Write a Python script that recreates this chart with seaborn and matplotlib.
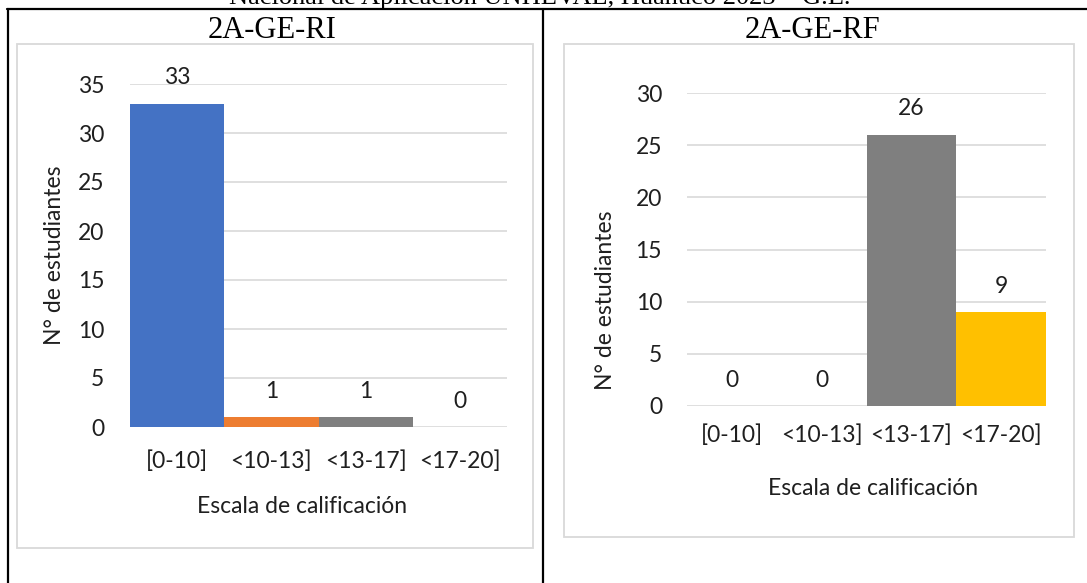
import matplotlib
matplotlib.use("Agg")
import matplotlib.pyplot as plt
from matplotlib.patches import Rectangle
from matplotlib.lines import Line2D
import seaborn as sns
import pandas as pd

# Data
categories = ["[0-10]", "<10-13]", "<13-17]", "<17-20]"]
ri_values = [33, 1, 1, 0]
rf_values = [0, 0, 26, 9]
bar_colors = ["#4472C4", "#ED7D31", "#7F7F7F", "#FFC000"]
caption = "Nacional de Aplicación UNHEVAL, Huánuco 2023 – G.E."
panel_titles = ["2A-GE-RI", "2A-GE-RF"]
y_label = "N° de estudiantes"
x_label = "Escala de calificación"

sns.set_theme(style="white")
plt.rcParams["font.family"] = ["Lato", "DejaVu Sans"]

W, H = 1087, 583
fig = plt.figure(figsize=(W / 100, H / 100), dpi=100)


def fx(px):
    return px / W


def fy(py):
    return 1 - py / H


def axes_rect(x0, x1, ytop, ybot):
    return [fx(x0), fy(ybot), fx(x1) - fx(x0), fy(ytop) - fy(ybot)]


# Table frame
line_kw = dict(color="black", lw=1.6, transform=fig.transFigure)
fig.add_artist(Line2D([fx(7), fx(1087)], [fy(9), fy(9)], **line_kw))
fig.add_artist(Line2D([fx(8), fx(8)], [fy(9), fy(583)], **line_kw))
fig.add_artist(Line2D([fx(543), fx(543)], [fy(9), fy(583)], **line_kw))

# Caption line above the table (its upper part runs past the top edge)
fig.text(fx(540), fy(4), caption, ha="center", va="baseline",
         fontsize=19, family="Liberation Serif", color="black")

# Panel headers
fig.text(fx(272), fy(31), panel_titles[0], ha="center", va="center",
         fontsize=22, family="Liberation Serif", color="black")
fig.text(fx(812), fy(31), panel_titles[1], ha="center", va="center",
         fontsize=22, family="Liberation Serif", color="black")

# Chart area borders
for (x0, y0, x1, y1) in [(17, 44, 533, 548), (564, 44, 1074, 537)]:
    fig.add_artist(Rectangle((fx(x0), fy(y1)), fx(x1) - fx(x0), fy(y0) - fy(y1),
                             transform=fig.transFigure, fill=False,
                             edgecolor="#D9D9D9", lw=1.3))

panels = [
    dict(values=ri_values, rect=axes_rect(130, 507, 84, 427), ymax=35,
         ytick_pad=18.5, xtick_pad=17.0,
         ylabel_pos=(-0.199, 0.5), xlabel_pos=(0.456, -0.233)),
    dict(values=rf_values, rect=axes_rect(687, 1046, 93, 406), ymax=30,
         ytick_pad=18.0, xtick_pad=13.5,
         ylabel_pos=(-0.228, 0.339), xlabel_pos=(0.518, -0.262)),
]

fs = 16.5
text_color = "#1F1F1F"
for p in panels:
    ax = fig.add_axes(p["rect"])
    df = pd.DataFrame({"cat": categories, "n": p["values"]})
    sns.barplot(data=df, x="cat", y="n", hue="cat", palette=bar_colors,
                order=categories, hue_order=categories, width=1.0,
                legend=False, ax=ax, saturation=1.0, zorder=3,
                linewidth=0, edgecolor="none")
    ax.set_xlim(-0.5, 3.5)
    ax.set_ylim(0, p["ymax"])
    ax.set_yticks(range(0, p["ymax"] + 1, 5))
    ax.grid(axis="y", color="#D9D9D9", lw=1.2, zorder=0)
    ax.grid(axis="x", visible=False)
    for s in ax.spines.values():
        s.set_visible(False)
    ax.tick_params(axis="y", length=0, pad=p["ytick_pad"], labelsize=fs,
                   labelcolor=text_color)
    ax.tick_params(axis="x", length=0, pad=p["xtick_pad"], labelsize=fs,
                   labelcolor=text_color)
    ax.set_ylabel(y_label, fontsize=fs, color=text_color)
    ax.set_xlabel(x_label, fontsize=fs, color=text_color)
    ax.yaxis.label.set_va("center")
    ax.xaxis.label.set_va("center")
    ax.yaxis.set_label_coords(*p["ylabel_pos"])
    ax.xaxis.set_label_coords(*p["xlabel_pos"])
    for i, v in enumerate(p["values"]):
        ax.annotate(str(v), (i, v), xytext=(0, 18.7), textcoords="offset points",
                    ha="center", va="center", fontsize=fs, color=text_color)

fig.savefig("out.png", dpi=100)
